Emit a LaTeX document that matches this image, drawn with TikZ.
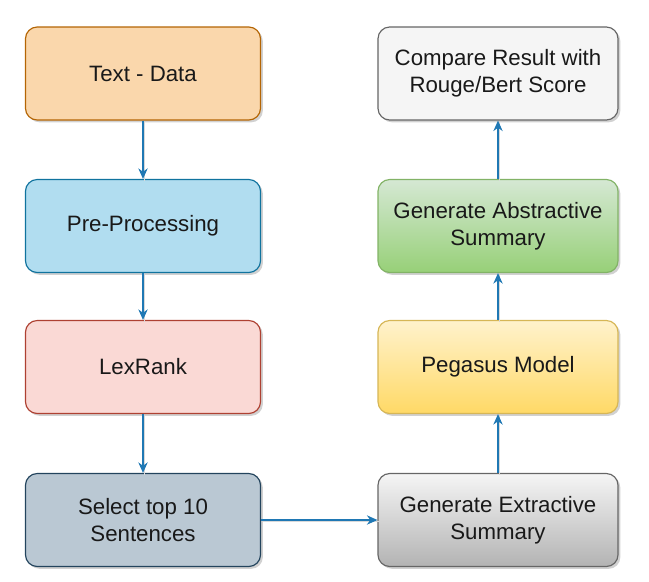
\documentclass[tikz,border=0pt]{standalone}
\usepackage{fontspec}
\setmainfont{Liberation Sans}
\usetikzlibrary{shadows,arrows.meta}

\definecolor{flowblue}{HTML}{1F78B4}
\definecolor{orangeline}{HTML}{B46504}
\definecolor{orangefill}{HTML}{FAD7AC}
\definecolor{blueline}{HTML}{10739E}
\definecolor{bluefill}{HTML}{B1DDF0}
\definecolor{redline}{HTML}{AE4132}
\definecolor{redfill}{HTML}{FAD9D5}
\definecolor{slateline}{HTML}{23445D}
\definecolor{slatefill}{HTML}{BAC8D3}
\definecolor{grayline}{HTML}{666666}
\definecolor{graytop}{HTML}{F5F5F5}
\definecolor{graybottom}{HTML}{B3B3B3}
\definecolor{yellowline}{HTML}{D6B656}
\definecolor{yellowtop}{HTML}{FFF2CC}
\definecolor{yellowbottom}{HTML}{FFD966}
\definecolor{greenline}{HTML}{82B366}
\definecolor{greentop}{HTML}{D5E8D4}
\definecolor{greenbottom}{HTML}{97D077}

\begin{document}
\begin{tikzpicture}[x=0.03cm, y=-0.03cm,
    box/.style={draw, rounded corners=10pt, line width=1pt, align=center,
        minimum width=7.05cm, minimum height=2.79cm,
        font=\fontsize{19}{23}\selectfont, text=black!90,
        drop shadow={shadow xshift=2pt, shadow yshift=-2pt, opacity=0.3, fill=black!60}},
    wbox/.style={box, minimum width=7.2cm},
    flow/.style={draw=flowblue, line width=1pt, -{Stealth[length=9pt, width=8pt]},
        preaction={draw=black!15, line width=1pt, -, transform canvas={shift={(1.5pt,-1.5pt)}}}}]
    \useasboundingbox (0,0) rectangle (649,581);

    % Left column
    \node [box, draw=orangeline, fill=orangefill] (textdata) at (143,73.5) {Text - Data};
    \node [box, draw=blueline, fill=bluefill] (preproc) at (143,226) {Pre-Processing};
    \node [box, draw=redline, fill=redfill] (lexrank) at (143,367) {LexRank};
    \node [box, draw=slateline, fill=slatefill] (selecttop) at (143,520) {Select top 10\\Sentences};

    % Right column
    \node [wbox, draw=grayline, top color=graytop, bottom color=graybottom] (extractive) at (498,520) {Generate Extractive\\Summary};
    \node [wbox, draw=yellowline, top color=yellowtop, bottom color=yellowbottom] (pegasus) at (498,367) {Pegasus Model};
    \node [wbox, draw=greenline, top color=greentop, bottom color=greenbottom] (abstractive) at (498,226) {Generate Abstractive\\Summary};
    \node [wbox, draw=grayline, fill=graytop] (compare) at (498,73.5) {Compare Result with\\Rouge/Bert Score};

    % Connections
    \draw [flow] (textdata) -- (preproc);
    \draw [flow] (preproc) -- (lexrank);
    \draw [flow] (lexrank) -- (selecttop);
    \draw [flow] (selecttop) -- (extractive);
    \draw [flow] (extractive) -- (pegasus);
    \draw [flow] (pegasus) -- (abstractive);
    \draw [flow] (abstractive) -- (compare);

\end{tikzpicture}
\end{document}
